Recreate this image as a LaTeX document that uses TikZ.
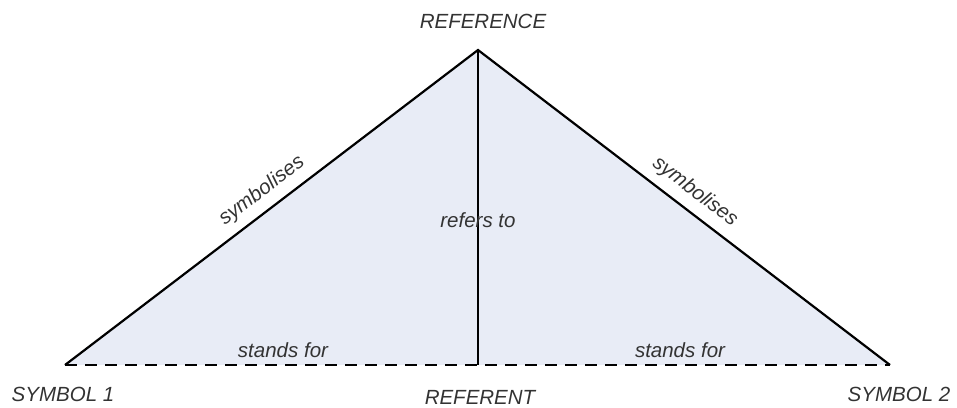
\documentclass[tikz,border=0pt]{standalone}
\usepackage{fontspec}
\setsansfont{Liberation Sans}
\definecolor{areafill}{HTML}{E8ECF6}
\definecolor{labelgray}{HTML}{333333}
\tikzset{
  lbl/.style={font=\sffamily\itshape\fontsize{20.5}{22}\selectfont, text=labelgray, inner sep=0pt},
  edge/.style={line width=2.2pt, line join=miter},
  dashedge/.style={line width=2.2pt, dash pattern=on 12pt off 8pt}
}
\begin{document}
\begin{tikzpicture}[x=1pt, y=-1pt]
  \useasboundingbox (0,0) rectangle (957,407);

  % --- corners ---
  \coordinate (apex) at (478,50);
  \coordinate (sym1) at (65,365);
  \coordinate (sym2) at (890,365);
  \coordinate (refnt) at (478,365);

  % --- filled triangle ---
  \fill[areafill] (apex) -- (sym1) -- (sym2) -- cycle;

  % --- sides ---
  \draw[edge] (sym1) -- (apex) -- (sym2);
  \draw[edge] (apex) -- (refnt);
  \draw[dashedge] (sym1) -- (sym2);

  % --- corner labels ---
  \node[lbl] (lref) at (483,21) {REFERENCE};
  \node[lbl] (lsym1) at (63,394) {SYMBOL 1};
  \node[lbl] (lsym2) at (899,394) {SYMBOL 2};
  \node[lbl] (lrefnt) at (480,397) {REFERENT};

  % --- edge labels ---
  \node[lbl, rotate=37.3] (lsy1) at (262,191) {symbolises};
  \node[lbl, rotate=-37.4] (lsy2) at (695,192) {symbolises};
  \node[lbl] (lrefers) at (478,220) {refers to};
  \node[lbl] (lst1) at (283,350) {stands for};
  \node[lbl] (lst2) at (680,350) {stands for};

\end{tikzpicture}
\end{document}
